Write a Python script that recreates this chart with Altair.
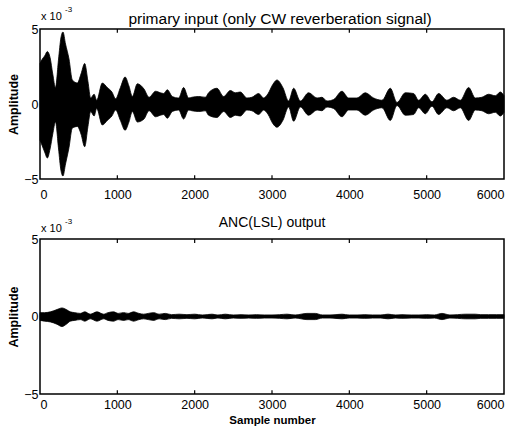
import altair as alt
import pandas as pd

# ---- data (amplitude in units of 1e-3), envelope ----
top_x = [0, 30, 60, 95, 130, 165, 200, 240, 270, 297, 330, 375, 418, 483, 530, 578,
         620, 655, 700, 733, 806, 870, 930, 978, 1040, 1100, 1150, 1194, 1259, 1345,
         1410, 1495, 1556, 1600, 1646, 1711, 1793, 1857, 1922, 1965, 2050, 2138, 2180,
         2288, 2375, 2461, 2526, 2590, 2676, 2741, 2827, 2892, 2950, 3010, 3064, 3140,
         3215, 3280, 3366, 3474, 3582, 3646, 3711, 3797, 3905, 3991, 4099, 4206, 4314,
         4422, 4530, 4616, 4724, 4831, 4896, 4982, 5068, 5155, 5262, 5349, 5435, 5543,
         5629, 5715, 5801, 5888, 5952, 6000]
top_upper = [2.7, 3.0, 3.2, 3.5, 3.1, 2.0, 1.1, 3.0, 4.4, 4.8, 4.0, 3.0, 1.6, 1.4, 2.0, 2.7,
             1.5, 0.4, 0.65, 0.25, 1.4, 1.1, 0.8, 0.35, 1.1, 1.8, 1.2, 0.5, 1.35, 1.0,
             0.45, 0.85, 0.75, 0.7, 0.95, 0.5, 0.4, 1.1, 0.4, 0.45, 0.5, 0.45, 0.75,
             1.05, 0.5, 0.9, 0.75, 0.8, 0.4, 0.45, 0.7, 0.4, 0.7, 1.3, 1.6, 1.1,
             0.2, 1.05, 0.2, 0.75, 0.4, 0.45, 0.2, 0.3, 0.85, 0.4, 0.4, 0.75, 0.4,
             0.25, 1.05, 0.1, 0.75, 0.7, 0.25, 0.65, 0.15, 0.7, 0.25, 0.45, 0.25, 1.1,
             0.4, 0.45, 0.65, 0.55, 0.8, 0.55]
top_lower = [-2.4, -2.8, -3.2, -3.6, -3.0, -2.0, -1.2, -3.0, -4.4, -4.8, -4.0, -2.9, -1.6, -1.5, -2.0, -2.85,
             -1.5, -0.5, -0.8, -0.3, -1.4, -1.1, -0.8, -0.4, -1.1, -1.75, -1.2, -0.5, -1.2, -1.0,
             -0.45, -0.85, -0.75, -0.7, -0.95, -0.5, -0.4, -1.0, -0.4, -0.45, -0.5, -0.45, -0.75,
             -0.9, -0.5, -0.9, -0.75, -0.8, -0.4, -0.45, -0.7, -0.4, -0.7, -1.3, -1.55, -1.1,
             -0.2, -1.15, -0.2, -0.75, -0.4, -0.45, -0.2, -0.3, -0.85, -0.4, -0.4, -0.75, -0.4,
             -0.25, -1.1, -0.1, -0.75, -0.7, -0.25, -0.65, -0.15, -0.7, -0.25, -0.45, -0.25, -1.1,
             -0.4, -0.45, -0.65, -0.55, -0.8, -0.55]

bot_x = [0, 60, 134, 220, 284, 340, 392, 450, 521, 580, 650, 737, 823, 880, 952, 1010,
         1082, 1140, 1211, 1280, 1340, 1400, 1470, 1540, 1620, 1700, 1800, 1900, 2000,
         2100, 2224, 2300, 2396, 2500, 2600, 2700, 2800, 2900, 3000, 3100, 3194, 3300,
         3452, 3560, 3650, 3750, 3905, 4000, 4100, 4200, 4300, 4400, 4500, 4600, 4680,
         4800, 4900, 5000, 5100, 5198, 5300, 5400, 5500, 5629, 5700, 5800, 5900, 6000]
bot_upper = [0.25, 0.25, 0.3, 0.45, 0.55, 0.45, 0.3, 0.25, 0.2, 0.3, 0.15, 0.3, 0.15, 0.25, 0.3, 0.2,
             0.25, 0.2, 0.3, 0.2, 0.15, 0.2, 0.25, 0.15, 0.2, 0.12, 0.15, 0.12, 0.15,
             0.1, 0.15, 0.1, 0.15, 0.1, 0.12, 0.1, 0.12, 0.1, 0.1, 0.12, 0.15, 0.1,
             0.2, 0.2, 0.1, 0.1, 0.15, 0.1, 0.1, 0.12, 0.1, 0.1, 0.15, 0.1, 0.12,
             0.1, 0.1, 0.12, 0.1, 0.2, 0.1, 0.12, 0.15, 0.15, 0.12, 0.12, 0.12, 0.12]
bot_lower = [-0.25, -0.3, -0.35, -0.5, -0.65, -0.5, -0.3, -0.25, -0.2, -0.3, -0.15, -0.3, -0.15, -0.25, -0.3, -0.2,
             -0.25, -0.2, -0.3, -0.2, -0.15, -0.2, -0.25, -0.15, -0.2, -0.12, -0.15, -0.12, -0.15,
             -0.1, -0.15, -0.1, -0.15, -0.1, -0.12, -0.1, -0.12, -0.1, -0.1, -0.12, -0.15, -0.1,
             -0.2, -0.2, -0.1, -0.1, -0.15, -0.1, -0.1, -0.12, -0.1, -0.1, -0.15, -0.1, -0.12,
             -0.1, -0.1, -0.12, -0.1, -0.2, -0.1, -0.12, -0.15, -0.15, -0.12, -0.12, -0.12, -0.12]

x_ticks = [0, 1000, 2000, 3000, 4000, 5000, 6000]
y_ticks = [-5, 0, 5]
titles = ["primary input (only CW reverberation signal)", "ANC(LSL) output"]
exp_base = ["x 10"]
exp_sup = ["-3"]

FONT = "Liberation Sans"


def panel(xv, up, lo, title, tsize, tdx, tdy, edy, h, xlabpad, xtitle):
    df = pd.DataFrame({"sample": xv, "upper": up, "lower": lo})
    xs = alt.Scale(domain=[0, 6000], nice=False, zero=False)
    ys = alt.Scale(domain=[-5, 5], nice=False)
    xaxis_kw = dict(values=x_ticks, format="d", ticks=False, domain=False, grid=False,
                    labelPadding=xlabpad, labelFontSize=12.5, labelColor="black", labelFont=FONT)
    if xtitle:
        xaxis_kw.update(title=xtitle, titleFontSize=11.5, titleFontWeight="bold",
                        titlePadding=4, titleFont=FONT, titleColor="black")
    else:
        xaxis_kw.update(title=None)
    xaxis = alt.Axis(**xaxis_kw)
    yaxis = alt.Axis(values=y_ticks, format="d", ticks=False, domain=False, grid=False,
                     labelPadding=2, labelFontSize=12.5, labelColor="black", labelFont=FONT,
                     title="Amplitude", titleFontSize=12.5, titleFontWeight="bold",
                     titlePadding=3, titleFont=FONT, titleColor="black")
    area = alt.Chart(df).mark_area(color="black", interpolate="monotone",
                                   stroke="black", strokeWidth=0.8).encode(
        x=alt.X("sample:Q", scale=xs, axis=xaxis),
        y=alt.Y("upper:Q", scale=ys, axis=yaxis),
        y2="lower:Q",
    )
    tk = pd.DataFrame({"sample": x_ticks[1:-1]})
    ttop = alt.Chart(tk).mark_rule(color="black", strokeWidth=1.2).encode(
        x="sample:Q", y=alt.datum(5), y2=alt.datum(4.75))
    tbot = alt.Chart(tk).mark_rule(color="black", strokeWidth=1.2).encode(
        x="sample:Q", y=alt.datum(-5), y2=alt.datum(-4.75))
    exp1 = alt.Chart(pd.DataFrame({"t": exp_base})).mark_text(
        align="left", baseline="middle", dx=1, dy=edy, fontSize=11, font=FONT, color="black").encode(
        x=alt.datum(0), y=alt.datum(5), text="t:N")
    exp2 = alt.Chart(pd.DataFrame({"t": exp_sup})).mark_text(
        align="left", baseline="middle", dx=25, dy=edy - 7, fontSize=8, font=FONT, color="black").encode(
        x=alt.datum(0), y=alt.datum(5), text="t:N")
    ttl = alt.Chart(pd.DataFrame({"t": [title]})).mark_text(
        align="center", baseline="middle", dx=tdx, dy=tdy, fontSize=tsize, font=FONT, color="black").encode(
        x=alt.datum(3000), y=alt.datum(5), text="t:N")
    return alt.layer(area, ttop, tbot, exp1, exp2, ttl).properties(width=464, height=h)


top = panel(top_x, top_upper, top_lower, titles[0], 15.5, 8, -10, -12, 150, 9, None)
bot = panel(bot_x, bot_upper, bot_lower, titles[1], 14, 0, -16, -10, 155, 4, "Sample number")

chart = alt.vconcat(top, bot, spacing=60, bounds="flush").properties(
    padding={"left": 6, "top": 5, "right": 10, "bottom": 10},
    background="white",
).configure_view(stroke="black", strokeWidth=1.5)

chart.save("out.html", embed_options={"renderer": "svg", "actions": False})
